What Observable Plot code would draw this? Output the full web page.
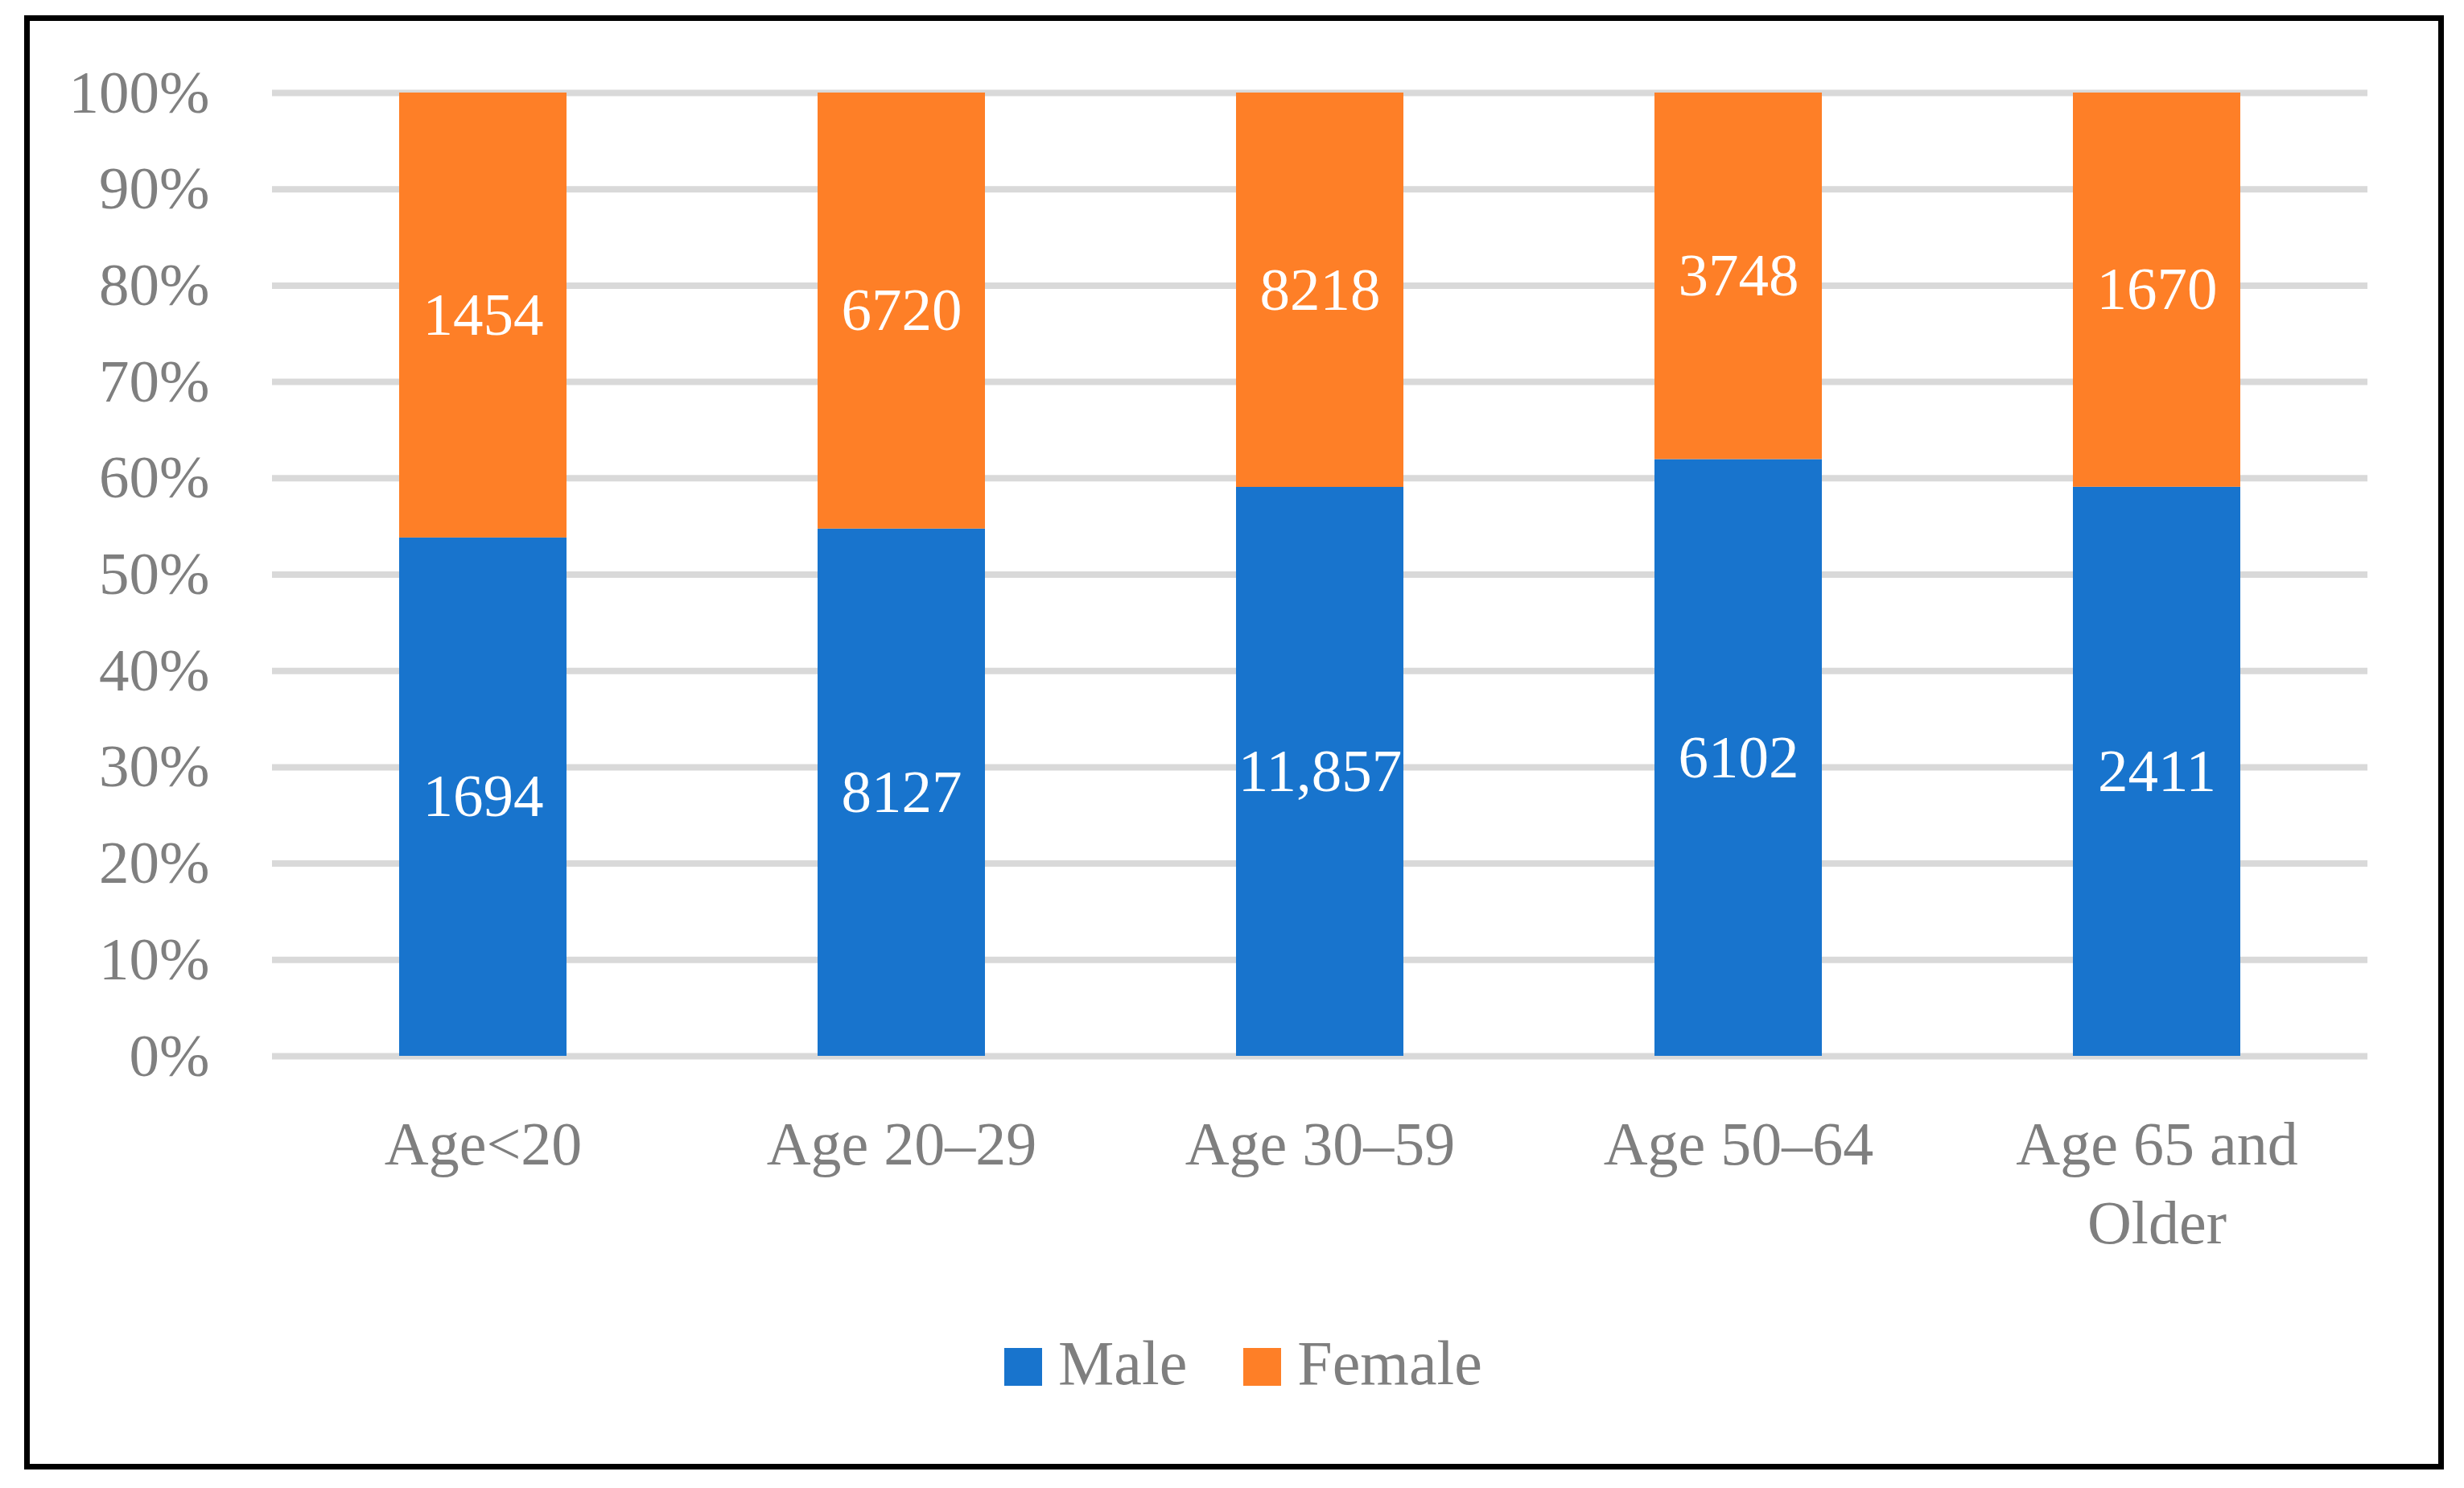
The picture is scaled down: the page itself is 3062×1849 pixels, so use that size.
<!DOCTYPE html>
<html>
<head>
<meta charset="utf-8">
<script src="https://cdn.jsdelivr.net/npm/d3@7"></script>
<script src="https://cdn.jsdelivr.net/npm/@observablehq/plot@0.6"></script>
<style>
  html, body { margin: 0; padding: 0; background: #fff; }
  body { width: 3062px; height: 1849px; position: relative; overflow: hidden; font-family: "Liberation Serif", serif; }
  #chart { position: absolute; left: 0; top: 0; }
  #frame { position: absolute; left: 30px; top: 19px; width: 3007px; height: 1807px; box-sizing: border-box; border: 7px solid #000; pointer-events: none; }
  #legend { position: absolute; left: 1248px; top: 1655px; height: 78px; display: flex; align-items: flex-start; font-size: 78px; line-height: 78px; color: #7f7f7f; font-family: "Liberation Serif", serif; }
  #legend .item { display: flex; align-items: flex-start; margin-right: 70px; }
  #legend .sw { width: 47px; height: 47px; margin-top: 20px; margin-right: 20px; }
</style>
</head>
<body>
<div id="chart"></div>
<div id="legend"></div>
<div id="frame"></div>
<script>
const ageGroups = ["Age<20", "Age 20–29", "Age 30–59", "Age 50–64", "Age 65 and Older"];
const male = [1694, 8127, 11857, 6102, 2411];
const female = [1454, 6720, 8218, 3748, 1670];
const sexes = ["Male", "Female"];
const sexColors = ["#1874CD", "#FE7F27"];
const yTicks = [0, 0.1, 0.2, 0.3, 0.4, 0.5, 0.6, 0.7, 0.8, 0.9, 1];

const table = [];
ageGroups.forEach((age, i) => {
  table.push({age, sex: "Male", value: male[i]});
  table.push({age, sex: "Female", value: female[i]});
});

const fmtLabel = v => v >= 10000 ? d3.format(",")(v) : String(v);
const fmtAge = a => a === "Age 65 and Older" ? "Age 65 and\nOlder" : a;

const plot = Plot.plot({
  width: 3062,
  height: 1600,
  marginLeft: 338,
  marginRight: 120,
  marginTop: 115,
  marginBottom: 288,
  style: {background: "transparent", color: "#7f7f7f", fontFamily: "Liberation Serif, serif", fontSize: "75px"},
  x: {domain: ageGroups, paddingInner: 0.6, paddingOuter: 0.3},
  y: {domain: [0, 1]},
  color: {domain: sexes, range: sexColors},
  marks: [
    Plot.ruleY(yTicks, {stroke: "#d9d9d9", strokeWidth: 8}),
    Plot.axisY({ticks: yTicks, tickSize: 0, tickPadding: 78, tickFormat: d => Math.round(d * 100) + "%", fontSize: 75, label: null}),
    Plot.axisX({tickSize: 0, tickPadding: 65, tickFormat: fmtAge, fontSize: 76, lineHeight: 1.29, label: null}),
    Plot.barY(table, Plot.stackY({x: "age", y: "value", z: "sex", fill: "sex", offset: "normalize"})),
    Plot.text(table, Plot.stackY({x: "age", y: "value", z: "sex", offset: "normalize", text: d => fmtLabel(d.value), fill: "white", fontSize: 75}))
  ]
});
document.getElementById("chart").appendChild(plot);

const legend = document.getElementById("legend");
sexes.forEach((s, i) => {
  const item = document.createElement("div");
  item.className = "item";
  const sw = document.createElement("div");
  sw.className = "sw";
  sw.style.background = sexColors[i];
  const t = document.createElement("span");
  t.textContent = s;
  item.appendChild(sw);
  item.appendChild(t);
  legend.appendChild(item);
});
</script>
</body>
</html>
